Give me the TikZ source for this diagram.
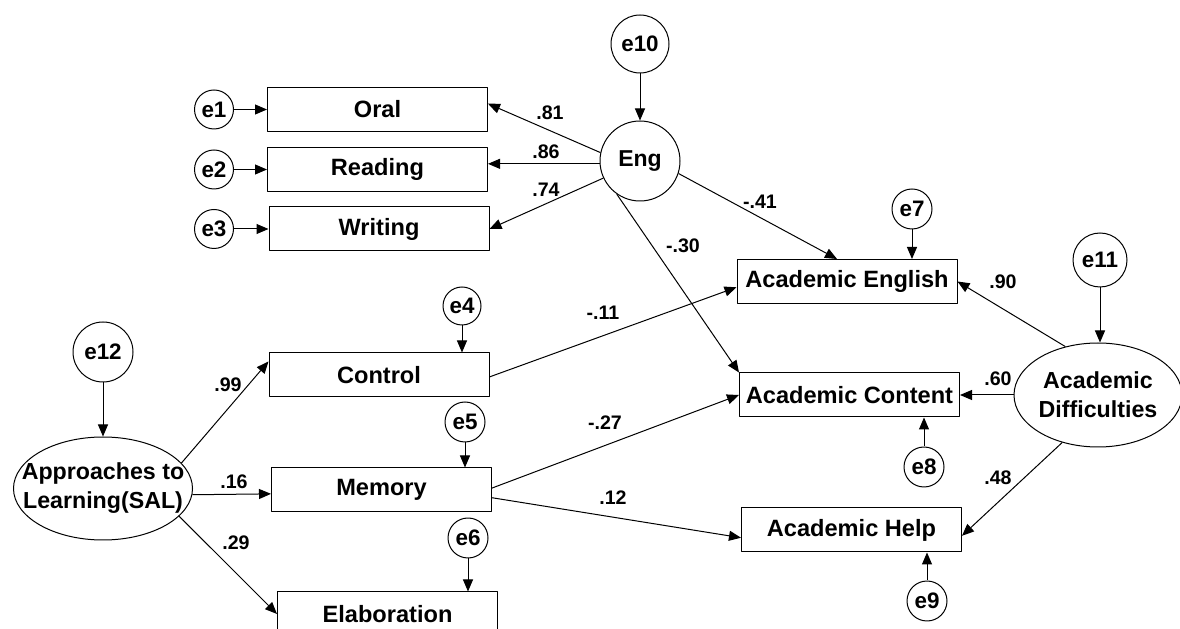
\documentclass[tikz,border=0pt]{standalone}
\usepackage{fontspec}
\setmainfont{Liberation Sans}
\usetikzlibrary{arrows.meta,shapes.geometric}

\begin{document}
\begin{tikzpicture}[>={Triangle[length=6bp,width=5bp]},line join=bevel,
    obsbox/.style={draw,rectangle,minimum width=110bp,minimum height=22bp,inner sep=0pt,
      font=\fontsize{11.8bp}{13bp}\selectfont\bfseries},
    errnode/.style={draw,circle,minimum size=20bp,inner sep=0pt,
      font=\fontsize{11.2bp}{13bp}\selectfont\bfseries},
    latent/.style={draw,ellipse,inner sep=0pt,align=center,
      font=\fontsize{11.6bp}{14.5bp}\selectfont\bfseries},
    coef/.style={inner sep=0pt,font=\fontsize{9.8bp}{11bp}\selectfont\bfseries},
  ]
      \pgfsetlinewidth{0.5bp}
      \useasboundingbox (0bp,0bp) rectangle (590bp,314.5bp);
      \clip (0bp,0bp) rectangle (590bp,314.5bp);
      %%
      % Node: eng
      \node[errnode,minimum size=40bp,font=\fontsize{11.5bp}{13bp}\selectfont\bfseries] (eng) at (320bp,234bp) {Eng};
      \node[errnode,minimum size=29bp] (e10) at (320bp,292.5bp) {e10};
      % Node: oral, reading, writing
      \node[obsbox] (oral) at (188.75bp,259.75bp) {Oral};
      \node[obsbox] (reading) at (188.75bp,229.75bp) {Reading};
      \node[obsbox] (writing) at (189.5bp,200bp) {Writing};
      \node[errnode,minimum size=19.5bp] (e1) at (107bp,259.75bp) {e1};
      \node[errnode,minimum size=19.5bp] (e2) at (107bp,229.75bp) {e2};
      \node[errnode,minimum size=19.5bp] (e3) at (107bp,200bp) {e3};
      % Node: sal
      \node[latent,minimum width=89.5bp,minimum height=51.5bp] (sal) at (51.5bp,70.25bp) {};
      \node[inner sep=0pt,align=center,font=\fontsize{11.6bp}{14.5bp}\selectfont\bfseries] (saltxt) at (sal) {Approaches to\\Learning(SAL)};
      \node[errnode,minimum size=30bp] (e12) at (51.5bp,138.5bp) {e12};
      % Node: control, memory, elab
      \node[obsbox] (control) at (189.5bp,127bp) {Control};
      \node[obsbox] (memory) at (190.75bp,69.5bp) {Memory};
      \node[obsbox] (elab) at (193.75bp,7.5bp) {Elaboration};
      \node[errnode,minimum size=19bp] (e4) at (231bp,161.5bp) {e4};
      \node[errnode] (e5) at (232.5bp,103.5bp) {e5};
      \node[errnode] (e6) at (234bp,45.5bp) {e6};
      % Node: aceng, accont, achelp
      \node[obsbox] (aceng) at (423.5bp,173.75bp) {Academic English};
      \node[obsbox] (accont) at (424.75bp,117bp) {Academic Content};
      \node[obsbox] (achelp) at (425.75bp,49.5bp) {Academic Help};
      \node[errnode] (e7) at (456bp,210bp) {e7};
      \node[errnode] (e8) at (462bp,81bp) {e8};
      \node[errnode] (e9) at (463.5bp,14bp) {e9};
      % Node: acdiff
      \node[latent,minimum width=84bp,minimum height=52bp] (acdiff) at (549bp,117bp) {Academic\\Difficulties};
      \node[errnode,minimum size=27bp] (e11) at (550bp,184.5bp) {e11};
      %%
      % Edge: e10 -> eng
      \draw [->] (e10) -- (eng);
      % Edge: eng -> oral
      \draw [->] (eng.168) -- (oral.3) node[coef] (c81) at (275bp,258bp) {.81};
      % Edge: eng -> reading
      \draw [->] (eng.184) -- (eng.184 -| reading.east) node[coef] (c86) at (273bp,238.5bp) {.86};
      % Edge: eng -> writing
      \draw [->] (eng.205) -- (writing.east) node[coef] (c74) at (273bp,219.5bp) {.74};
      % Edge: eng -> aceng
      \draw [->] (eng.342) -- ([xshift=-5bp]aceng.north) node[coef] (c41) at (380bp,213.5bp) {-.41};
      % Edge: eng -> accont
      \draw [->] (eng.235) -- (accont.north west) node[coef] (c30) at (341.5bp,191.5bp) {-.30};
      % Edge: e1 -> oral, e2 -> reading, e3 -> writing
      \draw [->] (e1) -- (oral.west);
      \draw [->] (e2) -- (reading.west);
      \draw [->] (e3) -- (writing.west);
      % Edge: e12 -> sal
      \draw [->] (e12) -- (sal);
      % Edge: sal -> control
      \draw [->] (sal.18) -- (control.173) node[coef] (c99) at (114bp,122bp) {.99};
      % Edge: sal -> memory
      \draw [->] (sal.356) -- (memory.182) node[coef] (c16) at (117bp,73.5bp) {.16};
      % Edge: sal -> elab
      \draw [->] (sal.340) -- (elab.west) node[coef] (c29) at (118bp,43bp) {.29};
      % Edge: e4 -> control, e5 -> memory, e6 -> elab
      \draw [->] (e4) -- (e4 |- control.north);
      \draw [->] (e5) -- (e5 |- memory.north);
      \draw [->] (e6) -- (e6 |- elab.north);
      % Edge: control -> aceng
      \draw [->] (control.359) -- (aceng.183) node[coef] (c11) at (301.5bp,158bp) {-.11};
      % Edge: memory -> accont
      \draw [->] (memory.1) -- (accont.west) node[coef] (c27) at (302.5bp,103bp) {-.27};
      % Edge: memory -> achelp
      \draw [->] (memory.356) -- (achelp.184) node[coef] (c12) at (306.5bp,65.5bp) {.12};
      % Edge: e7 -> aceng, e8 -> accont, e9 -> achelp
      \draw [->] (e7) -- (e7 |- aceng.north);
      \draw [->] (e8) -- (e8 |- accont.south);
      \draw [->] (e9) -- (e9 |- achelp.south);
      % Edge: e11 -> acdiff
      \draw [->] (e11) -- (e11 |- acdiff.north);
      % Edge: acdiff -> aceng
      \draw [->] (acdiff.124) -- (aceng.east) node[coef] (c90) at (501.5bp,173.5bp) {.90};
      % Edge: acdiff -> accont
      \draw [->] (acdiff.west) -- (accont.east) node[coef] (c60) at (499bp,125bp) {.60};
      % Edge: acdiff -> achelp
      \draw [->] (acdiff.233) -- (achelp.357) node[coef] (c48) at (499bp,75.5bp) {.48};
      %
\end{tikzpicture}
\end{document}
